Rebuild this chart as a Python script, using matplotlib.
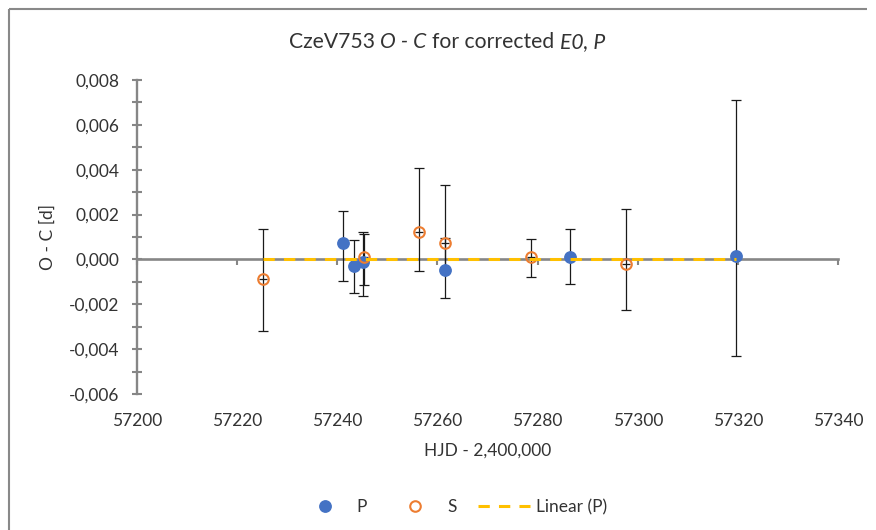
import matplotlib
matplotlib.use('Agg')
import matplotlib.pyplot as plt
import numpy as np
from matplotlib.lines import Line2D
from matplotlib.ticker import MultipleLocator, FuncFormatter

# ---------------- data ----------------
p_hjd = [57241.2, 57243.4, 57245.2, 57261.6, 57286.4, 57319.6]
p_oc = [0.00073, -0.00030, -0.00010, -0.00048, 0.00009, 0.00015]
p_err_minus = [0.00170, 0.00120, 0.00154, 0.00125, 0.00120, 0.00445]
p_err_plus = [0.00143, 0.00116, 0.00132, 0.00143, 0.00126, 0.00695]

s_hjd = [57225.2, 57245.4, 57256.4, 57261.6, 57278.6, 57297.6]
s_oc = [-0.00088, 0.00010, 0.00122, 0.00073, 0.00010, -0.00020]
s_err_minus = [0.00232, 0.00125, 0.00174, 0.00130, 0.00089, 0.00205]
s_err_plus = [0.00223, 0.00103, 0.00285, 0.00259, 0.00080, 0.00245]
s_xerr = [0.8, 0.8, 0.8, 0.8, 0.8, 0.8]

trend_slope = 0.0
trend_intercept = 0.0

x_ticks = [57200, 57220, 57240, 57260, 57280, 57300, 57320, 57340]
y_ticks = [-0.006, -0.004, -0.002, 0.0, 0.002, 0.004, 0.006, 0.008]

title_parts = [("CzeV753", "normal"), (" ", "normal"), ("O - C", "italic"),
               (" ", "normal"), ("for corrected", "normal"), (" ", "normal"),
               ("E0, P", "italic")]
y_label = "O - C [d]"
x_label = "HJD - 2,400,000"
legend_labels = ["P", "S", "Linear (P)"]

# ---------------- style ----------------
plt.rcParams['font.family'] = ['Lato', 'DejaVu Sans']
TXT = '#333333'
AX = '#868686'
BLUE = '#4472C4'
ORANGE = '#ED7D31'
YELLOW = '#FFC000'
FS = 12.5
W, H = 876, 530
P_MS, S_MS, S_MEW = 8.2, 7.6, 1.5
TREND_LS = (0, (3.7, 3.0))
TREND_LW = 2.2

fig = plt.figure(figsize=(W / 100, H / 100), dpi=100)
ax = fig.add_axes([137 / W, 1 - 394 / H, (838 - 137) / W, (394 - 80) / H])
ax.set_xlim(x_ticks[0], x_ticks[-1])
ax.set_ylim(y_ticks[0], y_ticks[-1])
for s in ['top', 'right', 'bottom']:
    ax.spines[s].set_visible(False)
ax.spines['left'].set_color(AX)
ax.spines['left'].set_linewidth(1.7)

ax.set_yticks(y_ticks)
ax.yaxis.set_minor_locator(MultipleLocator(0.001))


def yfmt(v, pos):
    if abs(v) < 1e-12:
        v = 0.0
    return f"{v:.3f}".replace('.', ',')


ax.yaxis.set_major_formatter(FuncFormatter(yfmt))
ax.tick_params(axis='y', which='major', direction='inout', length=7.5, width=1.5,
               color=AX, labelsize=FS, labelcolor=TXT, pad=9)
ax.tick_params(axis='y', which='minor', direction='inout', length=6.5, width=1.5, color=AX)

ax.set_xticks(x_ticks)
ax.xaxis.set_major_formatter(FuncFormatter(lambda v, p: str(int(round(v)))))
ax.tick_params(axis='x', length=0, pad=13.5, labelsize=FS, labelcolor=TXT)

# horizontal axis line crossing at y = 0
zero_frac = (0.0 - y_ticks[0]) / (y_ticks[-1] - y_ticks[0])
sec = ax.secondary_xaxis(zero_frac)
sec.set_xticks(x_ticks)
sec.tick_params(axis='x', direction='out', length=4, width=1.5, color=AX,
                labelbottom=False, labeltop=False)
for s in sec.spines.values():
    s.set_color(AX)
    s.set_linewidth(1.9)

# error bars
EB = dict(fmt='none', ecolor='#1a1a1a', elinewidth=0.9, capsize=3.3, capthick=0.9, zorder=3)
ax.errorbar(p_hjd, p_oc, yerr=[p_err_minus, p_err_plus], **EB)
ax.errorbar(s_hjd, s_oc, yerr=[s_err_minus, s_err_plus], **EB)
ax.errorbar(s_hjd, s_oc, xerr=s_xerr, fmt='none', ecolor='#1a1a1a',
            elinewidth=0.9, capsize=0, zorder=3)

# markers
ax.plot(p_hjd, p_oc, ls='none', marker='o', ms=P_MS, color=BLUE, zorder=4)
ax.plot(s_hjd, s_oc, ls='none', marker='o', ms=S_MS, mfc='none', mec=ORANGE, mew=S_MEW,
        zorder=4)

# linear trend of P
all_x = np.array(p_hjd + s_hjd)
tx = np.array([all_x.min(), all_x.max()])
ax.plot(tx, trend_slope * tx + trend_intercept, color=YELLOW, lw=TREND_LW,
        ls=TREND_LS, zorder=5)

# axis titles
fig.text(48 / W, 1 - 237 / H, y_label, rotation=90, ha='center', va='center',
         fontsize=FS, color=TXT)
fig.text(487.5 / W, 1 - 451 / H, x_label, ha='center', va='center', fontsize=FS, color=TXT)

# title with mixed italic parts
renderer = fig.canvas.get_renderer()
TFS = 15.2


def text_width(s, style):
    t = fig.text(0, 0, s, fontsize=TFS, style=style)
    w = t.get_window_extent(renderer).width
    t.remove()
    return w


space_w = text_width("x x", "normal") - text_width("xx", "normal")
widths = [space_w if s == " " else text_width(s, st) for s, st in title_parts]
total = sum(widths)
x0 = 447 - total / 2
for (s, st), w in zip(title_parts, widths):
    if s != " ":
        fig.text(x0 / W, 1 - 48 / H, s, fontsize=TFS, style=st, color=TXT,
                 ha='left', va='baseline')
    x0 += w

# legend
handles = [
    Line2D([], [], ls='none', marker='o', ms=P_MS, color=BLUE),
    Line2D([], [], ls='none', marker='o', ms=S_MS, mfc='none', mec=ORANGE, mew=S_MEW),
    Line2D([], [], color=YELLOW, lw=TREND_LW, ls=TREND_LS),
]
fig.legend(handles, legend_labels, loc='center', bbox_to_anchor=(453 / W, 1 - 507 / H),
           ncol=3, frameon=False, fontsize=FS, handlelength=3.0, handletextpad=0.35,
           columnspacing=1.25, labelcolor=TXT, borderaxespad=0)

# chart frame: only the top-left corner lies inside the picture
fig.add_artist(Line2D([8.5 / W, 8.5 / W], [0.0, 1 - 8.5 / H],
                      transform=fig.transFigure, color='#898989', lw=1.5,
                      solid_capstyle='butt'))
fig.add_artist(Line2D([8.5 / W, 0.99], [1 - 8.5 / H, 1 - 8.5 / H],
                      transform=fig.transFigure, color='#898989', lw=1.5,
                      solid_capstyle='butt'))

fig.savefig('out.png', dpi=100)
